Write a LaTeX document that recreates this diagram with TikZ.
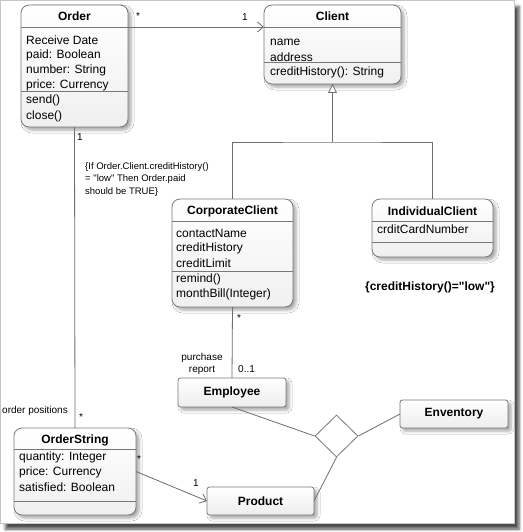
\documentclass[tikz,border=0pt]{standalone}
\usepackage{fontspec}
\setmainfont{Liberation Sans}[Ligatures=TeXOff]
\usetikzlibrary{arrows.meta,shapes.geometric,shadows.blur}
\definecolor{linec}{RGB}{110,110,110}
\definecolor{boxc}{RGB}{120,120,120}
\tikzset{
  shbox/.style={blur shadow={shadow xshift=3pt,shadow yshift=-3pt,shadow blur radius=3pt,shadow opacity=35}},
  classbox/.style={draw=boxc, line width=0.8pt, rounded corners=8pt, top color=white, bottom color=gray!12, shbox, inner sep=0pt, outer sep=0pt},
  simplebox/.style={draw=boxc, line width=0.8pt, rounded corners=2.5pt, top color=white, bottom color=gray!14, shbox, inner sep=0pt, outer sep=0pt},
  cline/.style={draw=boxc, line width=0.8pt},
  conn/.style={draw=linec, line width=0.8pt},
  ctitle/.style={font=\fontsize{12}{14}\selectfont\bfseries, inner sep=0pt},
  attr/.style={font=\fontsize{12}{14}\selectfont, inner sep=0pt, anchor=west},
  small/.style={font=\fontsize{10}{12}\selectfont, inner sep=0pt},
  openarr/.style={-{Straight Barb[length=6pt,width=10pt]}},
  genarr/.style={-{Triangle[open,length=9pt,width=9pt,fill=white]}},
}
\begin{document}
\begin{tikzpicture}[x=1pt,y=-1pt]
\useasboundingbox (0,0) rectangle (522,532);
% frame
\draw[gray!45, fill=white, blur shadow={shadow xshift=5pt,shadow yshift=-6pt,shadow blur radius=3pt,shadow opacity=70}] (0.5,0.5) rectangle (514,523);

% ---------- Order ----------
\node[classbox, minimum width=107pt, minimum height=122pt] (order) at (74.5,66) {};
\draw[cline] (order.west |- 0,27) -- (order.east |- 0,27);
\draw[cline] (order.west |- 0,91) -- (order.east |- 0,91);
\node[ctitle] (ordert) at (order.north |- 0,16) {Order};
\node[attr] (o1) at (26,40) {Receive Date};
\node[attr] (o2) at (26,55) {paid: Boolean};
\node[attr] (o3) at (26,70) {number: String};
\node[attr] (o4) at (26,85) {price: Currency};
\node[attr] (o5) at (26,100) {send()};
\node[attr] (o6) at (26,116) {close()};

% ---------- Client ----------
\node[classbox, minimum width=137pt, minimum height=79pt] (client) at (332.5,44.5) {};
\draw[cline] (client.west |- 0,27) -- (client.east |- 0,27);
\draw[cline] (client.west |- 0,62) -- (client.east |- 0,62);
\node[ctitle] (clientt) at (client.north |- 0,16) {Client};
\node[attr] (c1) at (270,42) {name};
\node[attr] (c2) at (270,57) {address};
\node[attr] (c3) at (270,72) {creditHistory(): String};

% ---------- CorporateClient ----------
\node[classbox, minimum width=121pt, minimum height=108pt] (corp) at (232.5,253) {};
\draw[cline] (corp.west |- 0,221) -- (corp.east |- 0,221);
\draw[cline] (corp.west |- 0,271) -- (corp.east |- 0,271);
\node[ctitle] (corpt) at (corp.north |- 0,211) {CorporateClient};
\node[attr] (k1) at (176,233) {contactName};
\node[attr] (k2) at (176,248) {creditHistory};
\node[attr] (k3) at (176,263) {creditLimit};
\node[attr] (k4) at (176,279) {remind()};
\node[attr] (k5) at (176,294) {monthBill(Integer)};

% ---------- IndividualClient ----------
\node[classbox, minimum width=121pt, minimum height=58pt] (indiv) at (432.5,228) {};
\draw[cline] (indiv.west |- 0,221) -- (indiv.east |- 0,221);
\draw[cline] (indiv.west |- 0,242) -- (indiv.east |- 0,242);
\node[ctitle] (indivt) at (indiv.north |- 0,211) {IndividualClient};
\node[attr] (i1) at (377,229) {crditCardNumber};
\node[ctitle] (constr) at (430,287) {\{creditHistory()="low"\}};

% ---------- OrderString ----------
\node[classbox, minimum width=122pt, minimum height=87pt] (ostr) at (75,471.5) {};
\draw[cline] (ostr.west |- 0,449) -- (ostr.east |- 0,449);
\draw[cline] (ostr.west |- 0,501) -- (ostr.east |- 0,501);
\node[ctitle] (ostrt) at (ostr.north |- 0,440) {OrderString};
\node[attr] (s1) at (19,457) {quantity: Integer};
\node[attr] (s2) at (19,472) {price: Currency};
\node[attr] (s3) at (19,487) {satisfied: Boolean};

% ---------- simple boxes ----------
\node[simplebox, minimum width=108pt, minimum height=29pt] (emp) at (232,392.5) {};
\node[ctitle] (empt) at (emp.center) {Employee};
\node[simplebox, minimum width=108pt, minimum height=28pt] (env) at (454,414) {};
\node[ctitle] (envt) at (env.center) {Enventory};
\node[simplebox, minimum width=107pt, minimum height=28pt] (prod) at (260.5,501) {};
\node[ctitle] (prodt) at (prod.center) {Product};

% diamond
\node[draw=boxc, line width=0.8pt, diamond, fill=white, minimum width=43pt, minimum height=42pt, inner sep=0pt] (assoc) at (336.5,436) {};

% ---------- connectors ----------
\draw[conn, openarr] ([yshift=-22pt]order.north east) -- ([yshift=-22pt]client.north west);
\coordinate (gj) at (332.5,142);
\draw[conn, genarr] (gj) -- (client.south);
\draw[conn] (corp.north) |- (gj) -| (indiv.north);
\draw[conn] (order.south) -- (ostr.north);
\draw[conn] (corp.south) -- (emp.north);
\draw[conn, openarr] (ostr.east) -- (prod.west);
\draw[conn] (emp.south) -- (assoc.west);
\draw[conn] (env.west) -- (assoc.east);
\draw[conn] (prod.east) -- (assoc.south);

% ---------- labels ----------
\node[small] (m1) at (138,16) {*};
\node[small] (m2) at (245,17) {1};
\node[small] (m3) at (80,137) {1};
\node[small] (m4) at (81,417) {*};
\node[small, anchor=east] (opos) at (68,411) {order positions};
\node[small] (m5) at (239,318) {*};
\node[small, align=center] (pr) at (202,364) {purchase\\report};
\node[small, anchor=west] (m6) at (238,369) {0..1};
\node[small] (m7) at (139,459) {*};
\node[small] (m8) at (196,483) {1};
\node[small, anchor=north west, align=left, font=\fontsize{9.5}{12.5}\selectfont] (note) at (85,162) {\{If Order.Client.creditHistory()\\= "low" Then Order.paid\\should be TRUE\}};
\end{tikzpicture}
\end{document}
